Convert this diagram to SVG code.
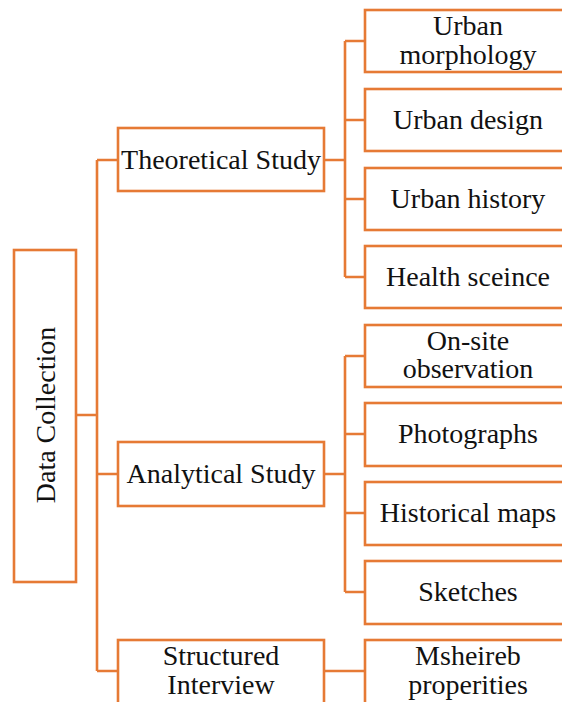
<svg xmlns="http://www.w3.org/2000/svg" width="562" height="702" viewBox="0 0 562 702">
  <style>
    .box { fill: #ffffff; stroke: #E67A35; stroke-width: 2.6; }
    .wire { fill: none; stroke: #E67A35; stroke-width: 2.6; }
    .lbl { font-family: "Liberation Serif", "Times New Roman", serif; font-size: 28px; fill: #111111; text-anchor: middle; }
  </style>
  <rect width="562" height="702" fill="#ffffff"/>

  <!-- connectors -->
  <g id="connectors" class="wire">
    <!-- root to level-one trunk -->
    <path d="M76 415 H97 M97 160 V671 M97 160 H118 M97 474 H118 M97 671 H118"/>
    <!-- theoretical study branches -->
    <path d="M324 160 H345 M345 41 V277 M345 41 H365 M345 120 H365 M345 199 H365 M345 277 H365"/>
    <!-- analytical study branches -->
    <path d="M324 474 H345 M345 356 V592 M345 356 H365 M345 434 H365 M345 513 H365 M345 592 H365"/>
    <!-- structured interview branch -->
    <path d="M324 671 H365"/>
  </g>

  <!-- root -->
  <g id="data-collection">
    <rect class="box" x="14" y="250" width="62" height="332"/>
    <text class="lbl" transform="translate(55,415) rotate(-90)" x="0" y="0">Data Collection</text>
  </g>

  <!-- level one -->
  <g id="theoretical-study">
    <rect class="box" x="118" y="128" width="206" height="63"/>
    <text class="lbl" x="221" y="169">Theoretical Study</text>
  </g>
  <g id="analytical-study">
    <rect class="box" x="118" y="442" width="206" height="64"/>
    <text class="lbl" x="221" y="483">Analytical Study</text>
  </g>
  <g id="structured-interview">
    <rect class="box" x="118" y="640" width="206" height="66"/>
    <text class="lbl" x="221" y="665">Structured</text>
    <text class="lbl" x="221" y="694">Interview</text>
  </g>

  <!-- level two -->
  <g id="urban-morphology">
    <rect class="box" x="365" y="10" width="206" height="62"/>
    <text class="lbl" x="468" y="35">Urban</text>
    <text class="lbl" x="468" y="64">morphology</text>
  </g>
  <g id="urban-design">
    <rect class="box" x="365" y="89" width="206" height="62"/>
    <text class="lbl" x="468" y="129">Urban design</text>
  </g>
  <g id="urban-history">
    <rect class="box" x="365" y="168" width="206" height="62"/>
    <text class="lbl" x="468" y="208">Urban history</text>
  </g>
  <g id="health-science">
    <rect class="box" x="365" y="246" width="206" height="62"/>
    <text class="lbl" x="468" y="286">Health sceince</text>
  </g>
  <g id="on-site-observation">
    <rect class="box" x="365" y="325" width="206" height="62"/>
    <text class="lbl" x="468" y="350">On-site</text>
    <text class="lbl" x="468" y="378">observation</text>
  </g>
  <g id="photographs">
    <rect class="box" x="365" y="403" width="206" height="63"/>
    <text class="lbl" x="468" y="443">Photographs</text>
  </g>
  <g id="historical-maps">
    <rect class="box" x="365" y="482" width="206" height="63"/>
    <text class="lbl" x="468" y="522">Historical maps</text>
  </g>
  <g id="sketches">
    <rect class="box" x="365" y="561" width="206" height="63"/>
    <text class="lbl" x="468" y="601">Sketches</text>
  </g>
  <g id="msheireb-properities">
    <rect class="box" x="365" y="640" width="206" height="66"/>
    <text class="lbl" x="468" y="665">Msheireb</text>
    <text class="lbl" x="468" y="694">properities</text>
  </g>
</svg>
